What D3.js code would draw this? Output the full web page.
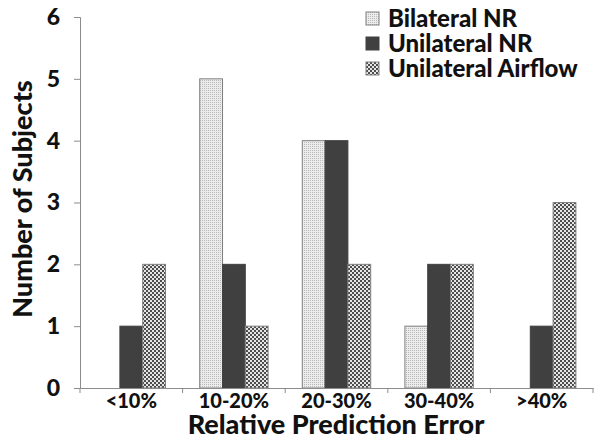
<!DOCTYPE html>
<html>
<head>
<meta charset="utf-8">
<script src="https://d3js.org/d3.v7.min.js"></script>
<style>
body { margin: 0; background: white; }
text { font-family: Lato, "Open Sans", sans-serif; font-weight: 900; fill: #111; }
</style>
</head>
<body>
<div id="chart"></div>
<script>
// data
var categories = ["<10%", "10-20%", "20-30%", "30-40%", ">40%"];
var seriesNames = ["Bilateral NR", "Unilateral NR", "Unilateral Airflow"];
var bilateralNR = [0, 5, 4, 1, 0];
var unilateralNR = [1, 2, 4, 2, 1];
var unilateralAirflow = [2, 1, 2, 2, 3];
var yTicks = [0, 1, 2, 3, 4, 5, 6];

var series = [bilateralNR, unilateralNR, unilateralAirflow];
var fills = ["url(#dots)", "#404040", "url(#checks)"];

var width = 601, height = 442;
var svg = d3.select("#chart").append("svg")
  .attr("width", width).attr("height", height);

// patterns
var defs = svg.append("defs");
var p1 = defs.append("pattern").attr("id", "dots")
  .attr("patternUnits", "userSpaceOnUse").attr("width", 2).attr("height", 2);
p1.append("rect").attr("width", 2).attr("height", 2).attr("fill", "#ececec");
p1.append("rect").attr("width", 1).attr("height", 1).attr("fill", "#b8b8b8");
var p2 = defs.append("pattern").attr("id", "checks")
  .attr("patternUnits", "userSpaceOnUse").attr("width", 4).attr("height", 4);
p2.append("rect").attr("width", 4).attr("height", 4).attr("fill", "#e6e6e6");
p2.append("rect").attr("width", 2).attr("height", 2).attr("fill", "#4d4d4d");
p2.append("rect").attr("x", 2).attr("y", 2).attr("width", 2).attr("height", 2).attr("fill", "#4d4d4d");

var x = d3.scaleBand().domain(categories).range([80, 593]);
var xSub = d3.scaleBand().domain(d3.range(3))
  .range([0, x.bandwidth()]).paddingOuter(0.75).paddingInner(0);
var y = d3.scaleLinear().domain([0, 6]).range([388, 17]);

// bars
series.forEach(function(vals, s) {
  var rows = vals.map(function(v, i) { return {cat: categories[i], v: v}; })
    .filter(function(d) { return d.v > 0; });
  svg.append("g").selectAll("rect").data(rows).enter()
    .append("rect")
    .attr("x", function(d) { return x(d.cat) + xSub(s); })
    .attr("y", function(d) { return y(d.v); })
    .attr("width", xSub.bandwidth())
    .attr("height", function(d) { return y(0) - y(d.v); })
    .attr("fill", fills[s])
    .attr("stroke", s == 1 ? "#404040" : "#808080")
    .attr("stroke-width", 1);
});

// y axis
var yAxis = svg.append("g").attr("transform", "translate(80,0)")
  .call(d3.axisLeft(y).tickValues(yTicks).tickFormat(d3.format("d"))
    .tickSize(6).tickPadding(14));
yAxis.select(".domain").attr("stroke", "#8c8c8c");
yAxis.selectAll(".tick line").attr("stroke", "#8c8c8c");
yAxis.selectAll("text").style("font-size", "23px").attr("fill", "#111");

// x axis
var xAxis = svg.append("g").attr("transform", "translate(0,388)")
  .call(d3.axisBottom(x).tickSize(0).tickPadding(6));
xAxis.select(".domain").attr("stroke", "#8c8c8c");
xAxis.selectAll("text").style("font-size", "20px").attr("fill", "#111");
// tick marks between categories
xAxis.selectAll(".sep").data(d3.range(6)).enter().append("line")
  .attr("x1", function(d) { return 80 + d * x.step(); })
  .attr("x2", function(d) { return 80 + d * x.step(); })
  .attr("y1", 0).attr("y2", 5).attr("stroke", "#8c8c8c");

// axis titles
svg.append("text")
  .attr("transform", "translate(32,199) rotate(-90)")
  .attr("text-anchor", "middle")
  .style("font-size", "27px")
  .text("Number of Subjects");
svg.append("text")
  .attr("x", 336).attr("y", 434)
  .attr("text-anchor", "middle")
  .style("font-size", "27px")
  .text("Relative Prediction Error");

// legend
var legend = svg.append("g");
seriesNames.forEach(function(name, i) {
  var ly = 12 + i * 25;
  legend.append("rect").attr("x", 366).attr("y", ly)
    .attr("width", 13).attr("height", 13)
    .attr("fill", fills[i]).attr("stroke", i == 1 ? "#404040" : "#808080");
  legend.append("text").attr("x", 388).attr("y", ly + 15)
    .style("font-size", "24px").text(name);
});
</script>
</body>
</html>
